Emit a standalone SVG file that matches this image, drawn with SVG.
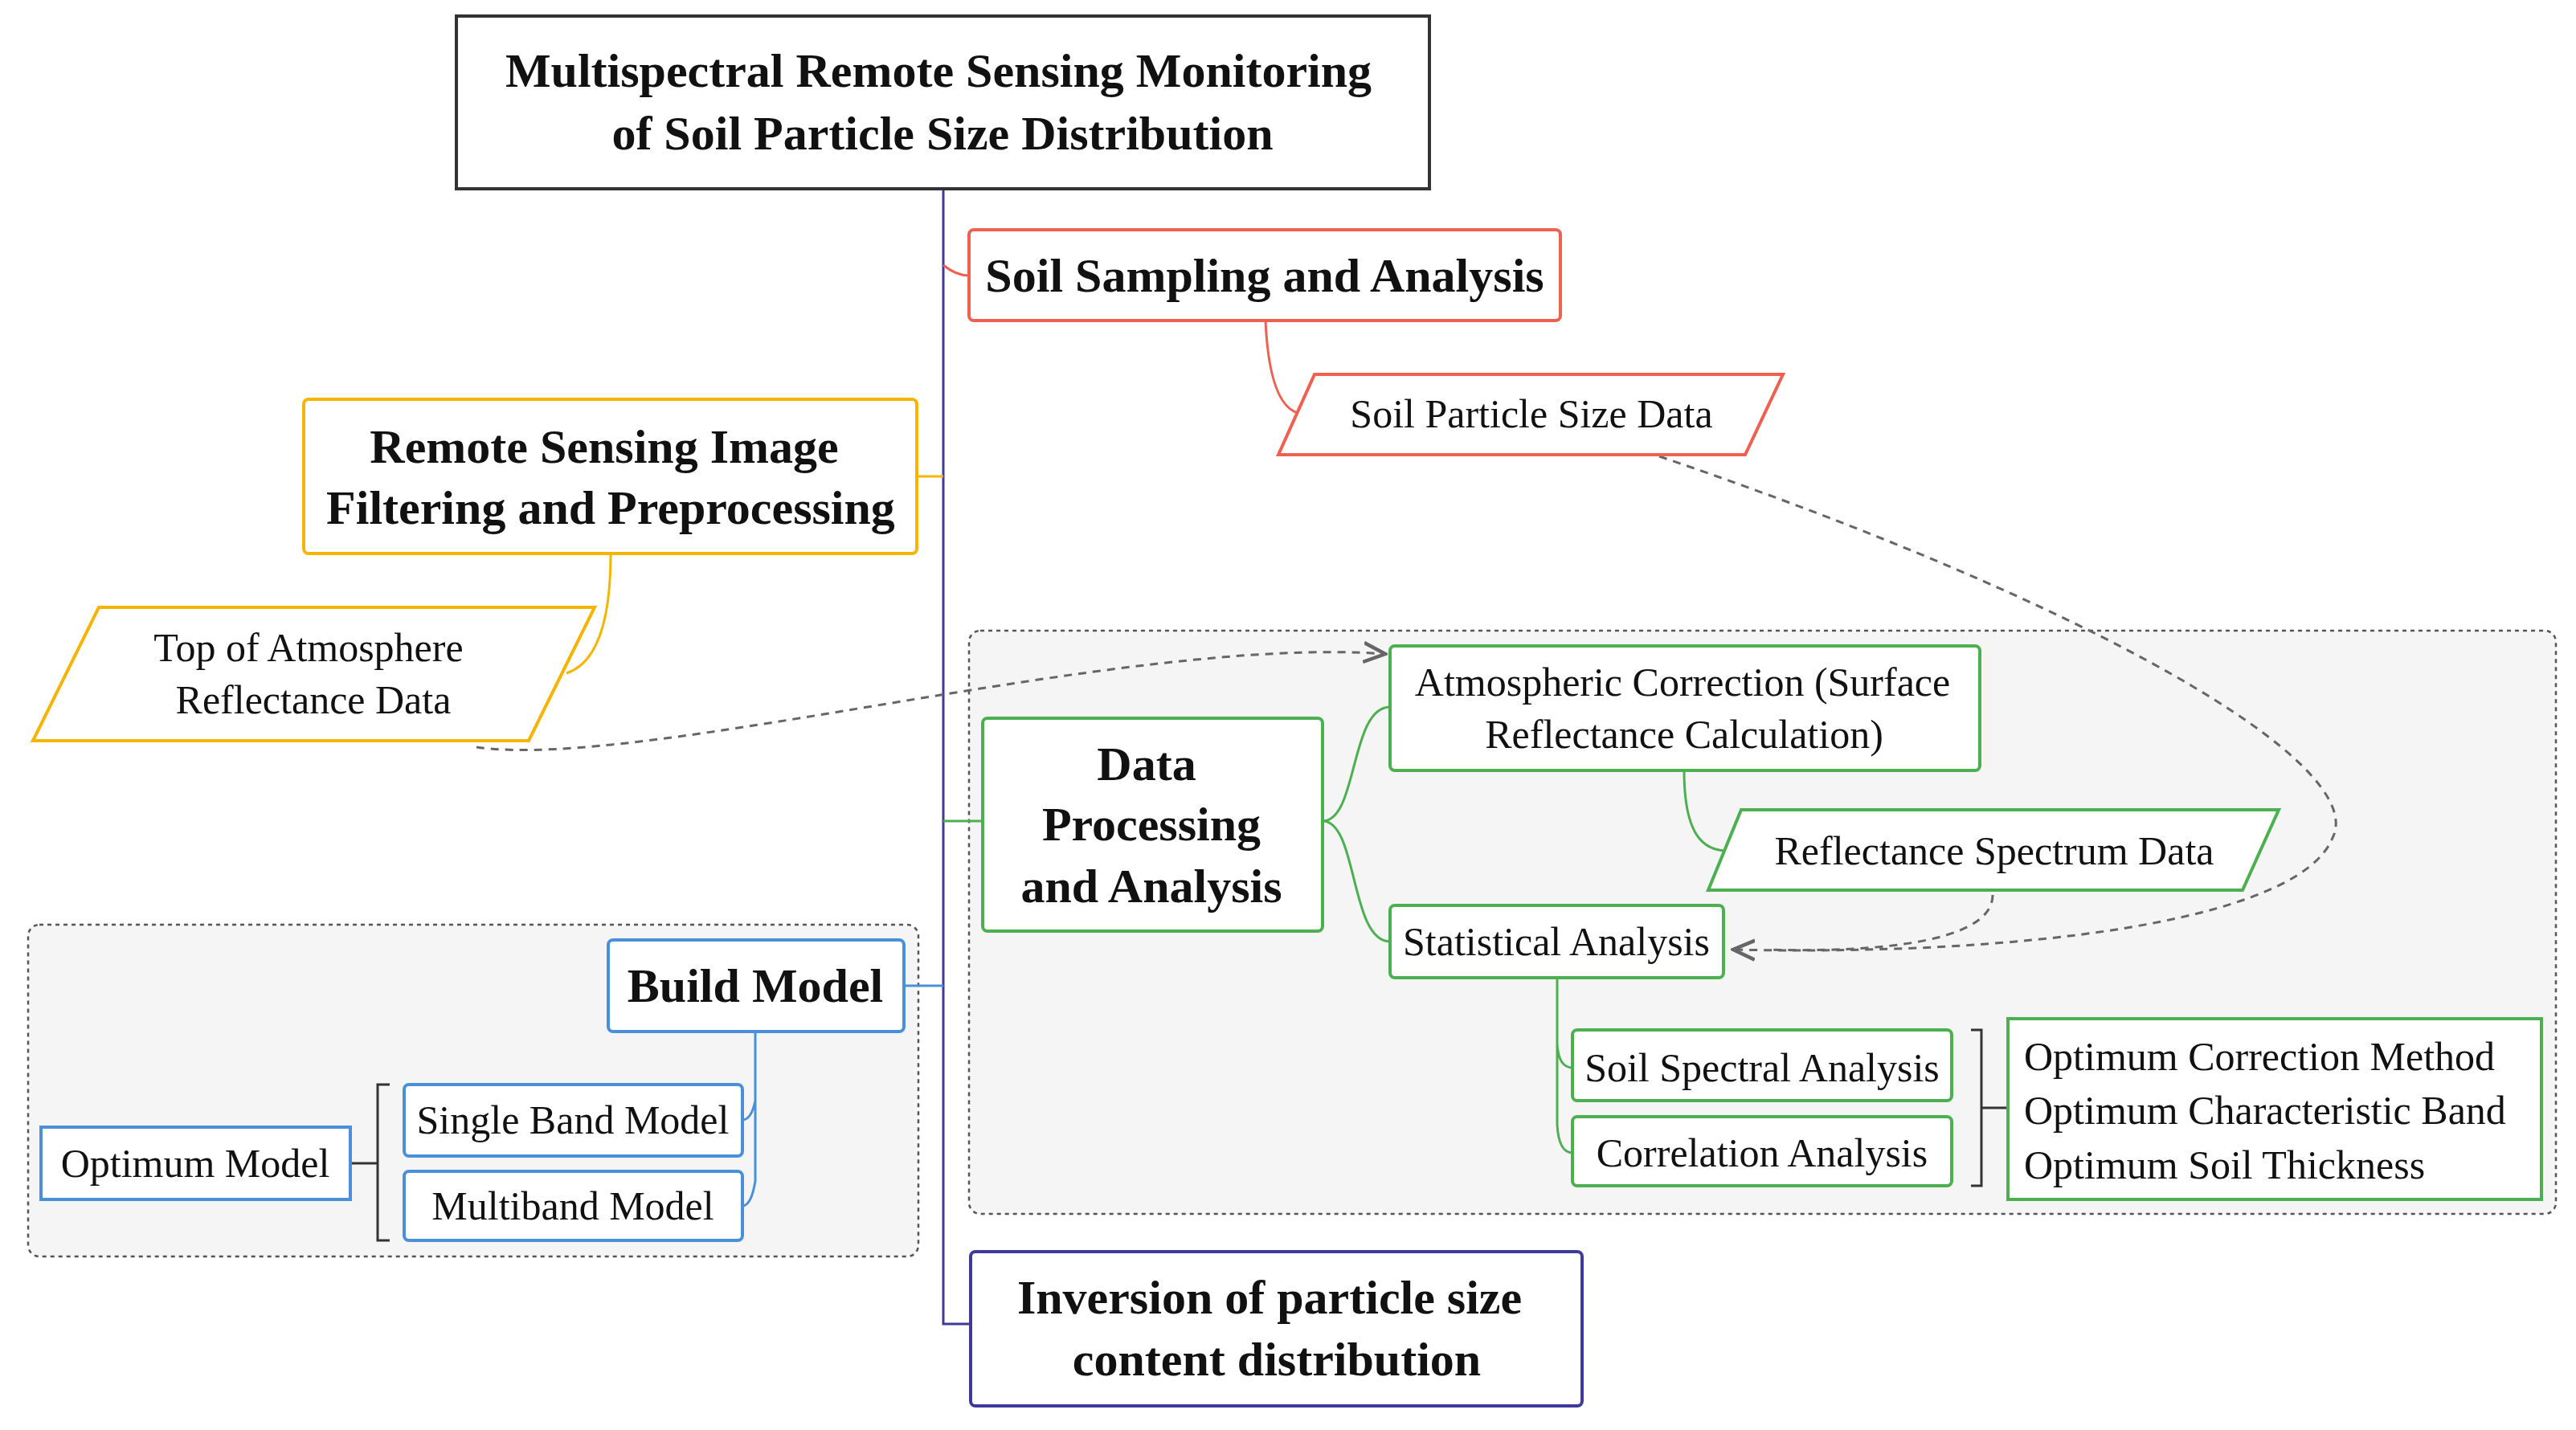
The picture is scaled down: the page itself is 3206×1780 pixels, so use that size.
<svg xmlns="http://www.w3.org/2000/svg" width="3206" height="1780" viewBox="0 0 3206 1780">
<style>
text{font-family:"Liberation Serif",serif;text-anchor:middle;fill:#111}
.b{font-weight:bold;font-size:60px}
.r{font-size:50px}
.l{text-anchor:start}
.dash{fill:#f5f5f5;stroke:#555;stroke-width:2.5;stroke-dasharray:5 5}
.red{fill:#fff;stroke:#f06050;stroke-width:4}
.org{fill:#fff;stroke:#f5b400;stroke-width:4}
.grn{fill:#fff;stroke:#4caf50;stroke-width:4}
.blu{fill:#fff;stroke:#4a90d9;stroke-width:4}
.c{fill:none;stroke-width:3}
</style>
<defs><marker id="a" markerWidth="10" markerHeight="10" refX="9" refY="5" orient="auto"><path d="M0,1 L9,5 L0,9" fill="none" stroke="#666" stroke-width="1.5"/></marker></defs>
<rect class="dash" x="1206" y="785" width="1975" height="726" rx="14"/>
<rect class="dash" x="35" y="1151" width="1108" height="413" rx="14"/>
<g id="connectors">
<path class="c" stroke="#3f3a99" d="M1174,235 V1648 H1208"/>
<path class="c" stroke="#f06050" d="M1174,330 Q1190,343 1206,343"/>
<path class="c" stroke="#f06050" d="M1575,399 Q1580,510 1620,515"/>
<path class="c" stroke="#f5b400" d="M1174,593 Q1160,593 1141,593"/>
<path class="c" stroke="#f5b400" d="M760,689 Q760,820 705,838"/>
<path class="c" stroke="#4caf50" d="M1174,1022 H1223"/>
<path class="c" stroke="#4caf50" d="M1646,1022 C1690,1022 1680,880 1730,880 M1646,1022 C1690,1022 1680,1172 1730,1172"/>
<path class="c" stroke="#4caf50" d="M2096,959 C2096,1040 2120,1059 2150,1059"/>
<path class="c" stroke="#4caf50" d="M1938,1217 V1300 Q1940,1329 1957,1329 M1938,1217 V1400 Q1940,1435 1957,1435"/>
<path class="c" stroke="#4a90d9" d="M1174,1227 H1125"/>
<path class="c" stroke="#4a90d9" d="M940,1284 V1370 Q935,1394 924,1394 M940,1284 V1470 Q935,1501 924,1501"/>
<path class="c" stroke="#333" stroke-width="2.5" d="M2453,1282 H2466 V1476 H2453 M2466,1379 H2499"/>
<path class="c" stroke="#333" stroke-width="2.5" d="M485,1350 H470 V1544 H485 M436,1448 H470"/>
<path class="c" stroke="#666" stroke-dasharray="10 8" marker-end="url(#a)" d="M593,930 C800,960 1400,790 1724,814"/>
<path class="c" stroke="#666" stroke-dasharray="10 8" marker-end="url(#a)" d="M2065,568 C2600,750 2950,950 2903,1043 C2860,1150 2500,1190 2157,1182"/>
<path class="c" stroke="#666" stroke-dasharray="10 8" d="M2480,1114 C2480,1180 2300,1185 2200,1182"/>
</g>
<g id="title"><rect x="568" y="20" width="1211" height="215" fill="#fff" stroke="#333" stroke-width="4"/><text class="b" x="1168" y="108">Multispectral Remote Sensing Monitoring</text><text class="b" x="1173" y="186">of Soil Particle Size Distribution</text></g>
<g id="soilSampling"><rect class="red" x="1206" y="286" width="736" height="113" rx="6"/><text class="b" x="1574" y="363">Soil Sampling and Analysis</text></g>
<g id="soilParticle"><polygon class="red" points="1636,466 2219,466 2172,566 1591,566"/><text class="r" x="1906" y="532">Soil Particle Size Data</text></g>
<g id="remote"><rect class="org" x="378" y="497" width="763" height="192" rx="6"/><text class="b" x="752" y="576">Remote Sensing Image</text><text class="b" x="760" y="652">Filtering and Preprocessing</text></g>
<g id="toa"><polygon class="org" points="123,756 740,756 658,922 41,922"/><text class="r" x="384" y="823">Top of Atmosphere</text><text class="r" x="390" y="888">Reflectance Data</text></g>
<g id="dpa"><rect class="grn" x="1223" y="894" width="423" height="265" rx="6"/><text class="b" x="1427" y="971">Data</text><text class="b" x="1433" y="1046">Processing</text><text class="b" x="1433" y="1123">and Analysis</text></g>
<g id="atmos"><rect class="grn" x="1730" y="804" width="734" height="155" rx="6"/><text class="r" x="2094" y="866">Atmospheric Correction (Surface</text><text class="r" x="2096" y="931">Reflectance Calculation)</text></g>
<g id="refl"><polygon class="grn" points="2167,1008 2836,1008 2791,1108 2126,1108"/><text class="r" x="2482" y="1076">Reflectance Spectrum Data</text></g>
<g id="stat"><rect class="grn" x="1730" y="1127" width="415" height="90" rx="6"/><text class="r" x="1937" y="1189">Statistical Analysis</text></g>
<g id="spectral"><rect class="grn" x="1957" y="1282" width="472" height="88" rx="6"/><text class="r" x="2193" y="1346">Soil Spectral Analysis</text></g>
<g id="corr"><rect class="grn" x="1957" y="1390" width="472" height="86" rx="6"/><text class="r" x="2193" y="1452">Correlation Analysis</text></g>
<g id="optimum"><rect class="grn" x="2499" y="1268" width="664" height="225"/><text class="r l" x="2519" y="1332">Optimum Correction Method</text><text class="r l" x="2519" y="1399">Optimum Characteristic Band</text><text class="r l" x="2519" y="1467">Optimum Soil Thickness</text></g>
<g id="build"><rect class="blu" x="757" y="1170" width="368" height="114" rx="6"/><text class="b" x="940" y="1247">Build Model</text></g>
<g id="single"><rect class="blu" x="503" y="1350" width="421" height="89" rx="6"/><text class="r" x="713" y="1411">Single Band Model</text></g>
<g id="multi"><rect class="blu" x="503" y="1458" width="421" height="86" rx="6"/><text class="r" x="713" y="1518">Multiband Model</text></g>
<g id="optModel"><rect class="blu" x="51" y="1403" width="385" height="90"/><text class="r" x="243" y="1465">Optimum Model</text></g>
<g id="inversion"><rect x="1208" y="1558" width="761" height="192" rx="6" fill="#fff" stroke="#3f3a99" stroke-width="4"/><text class="b" x="1580" y="1635">Inversion of particle size</text><text class="b" x="1589" y="1712">content distribution</text></g>
</svg>
